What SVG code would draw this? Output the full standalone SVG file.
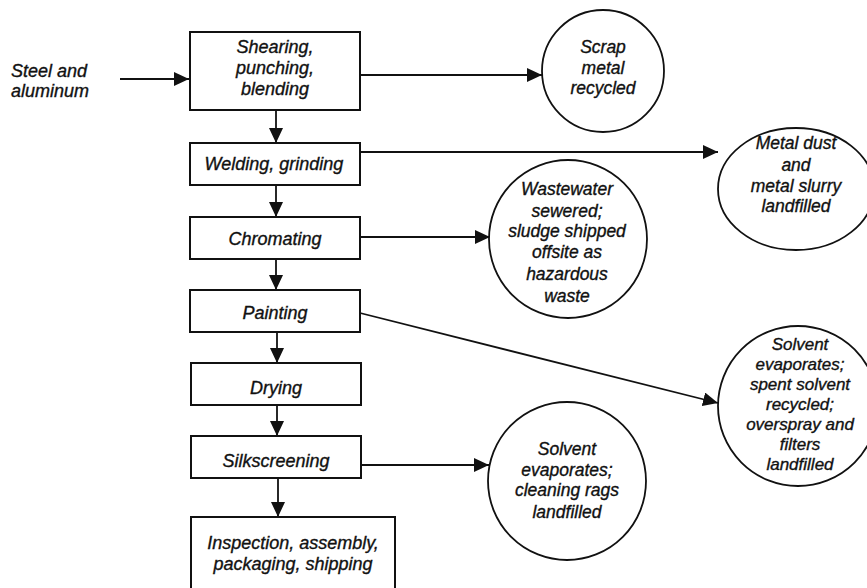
<svg xmlns="http://www.w3.org/2000/svg" width="867" height="588" viewBox="0 0 867 588">
<style>
.box{fill:#fff;stroke:#111;stroke-width:2}
.node{fill:#fff;stroke:#111;stroke-width:1.8}
.ln{fill:none;stroke:#111;stroke-width:1.8}
text{font-family:"Liberation Sans",Arial,sans-serif;font-style:italic;font-size:18px;fill:#111;stroke:#111;stroke-width:0.35;text-anchor:middle}
.c{font-size:17.5px}
.s{font-size:17px}
.l{text-anchor:start}
</style>
<defs>
<marker id="ah" markerUnits="userSpaceOnUse" markerWidth="15" markerHeight="14" refX="15" refY="7" orient="auto">
<path d="M0,0 L15,7 L0,14 z" fill="#111"/>
</marker>
</defs>
<g id="connectors">
<line class="ln" x1="120" y1="79" x2="189" y2="79" marker-end="url(#ah)"/>
<line class="ln" x1="276" y1="110" x2="276" y2="143" marker-end="url(#ah)"/>
<line class="ln" x1="276" y1="185" x2="276" y2="217" marker-end="url(#ah)"/>
<line class="ln" x1="276" y1="259" x2="276" y2="290" marker-end="url(#ah)"/>
<line class="ln" x1="277" y1="332" x2="277" y2="363" marker-end="url(#ah)"/>
<line class="ln" x1="277" y1="405" x2="277" y2="436" marker-end="url(#ah)"/>
<line class="ln" x1="278" y1="478" x2="278" y2="517" marker-end="url(#ah)"/>
<line class="ln" x1="360" y1="75" x2="542" y2="75" marker-end="url(#ah)"/>
<line class="ln" x1="360" y1="152" x2="718" y2="152" marker-end="url(#ah)"/>
<line class="ln" x1="360" y1="237" x2="490" y2="237" marker-end="url(#ah)"/>
<line class="ln" x1="360" y1="313" x2="718" y2="403" marker-end="url(#ah)"/>
<line class="ln" x1="361" y1="465" x2="489" y2="465" marker-end="url(#ah)"/>
</g>
<g id="input">
<text class="l" x="11" y="77">Steel and</text>
<text class="l" x="11" y="97">aluminum</text>
</g>
<g id="shearing">
<rect class="box" x="190" y="32" width="170" height="78"/>
<text x="275" y="53">Shearing,</text>
<text x="275" y="74">punching,</text>
<text x="275" y="95">blending</text>
</g>
<g id="welding">
<rect class="box" x="190" y="143" width="170" height="42"/>
<text x="274" y="170">Welding, grinding</text>
</g>
<g id="chromating">
<rect class="box" x="190" y="217" width="170" height="42"/>
<text x="275" y="245">Chromating</text>
</g>
<g id="painting">
<rect class="box" x="190" y="290" width="170" height="42"/>
<text x="275" y="319">Painting</text>
</g>
<g id="drying">
<rect class="box" x="191" y="363" width="170" height="42"/>
<text x="276" y="394">Drying</text>
</g>
<g id="silkscreening">
<rect class="box" x="191" y="436" width="170" height="42"/>
<text x="276" y="467">Silkscreening</text>
</g>
<g id="inspection">
<rect class="box" x="191" y="517" width="204" height="85"/>
<text x="293" y="549">Inspection, assembly,</text>
<text x="293" y="570">packaging, shipping</text>
</g>
<g id="scrap">
<circle class="node" cx="603" cy="71" r="61"/>
<text class="c" x="603" y="53">Scrap</text>
<text class="c" x="603" y="74">metal</text>
<text class="c" x="603" y="94">recycled</text>
</g>
<g id="metaldust">
<ellipse class="node" cx="796" cy="189" rx="78" ry="61"/>
<text class="c" x="796" y="149">Metal dust</text>
<text class="c" x="796" y="171">and</text>
<text class="c" x="796" y="192">metal slurry</text>
<text class="c" x="796" y="212">landfilled</text>
</g>
<g id="wastewater">
<circle class="node" cx="568" cy="239" r="79"/>
<text class="c" x="567" y="195">Wastewater</text>
<text class="c" x="567" y="217">sewered;</text>
<text class="c" x="567" y="237">sludge shipped</text>
<text class="c" x="567" y="258">offsite as</text>
<text class="c" x="567" y="280">hazardous</text>
<text class="c" x="567" y="302">waste</text>
</g>
<g id="solvent1">
<circle class="node" cx="798" cy="406" r="80"/>
<text class="s" x="800" y="350">Solvent</text>
<text class="s" x="800" y="370">evaporates;</text>
<text class="s" x="800" y="390">spent solvent</text>
<text class="s" x="800" y="410">recycled;</text>
<text class="s" x="800" y="430">overspray and</text>
<text class="s" x="800" y="450">filters</text>
<text class="s" x="800" y="470">landfilled</text>
</g>
<g id="solvent2">
<circle class="node" cx="567" cy="481" r="79"/>
<text class="c" x="567" y="455">Solvent</text>
<text class="c" x="567" y="476">evaporates;</text>
<text class="c" x="567" y="496">cleaning rags</text>
<text class="c" x="567" y="518">landfilled</text>
</g>
</svg>
